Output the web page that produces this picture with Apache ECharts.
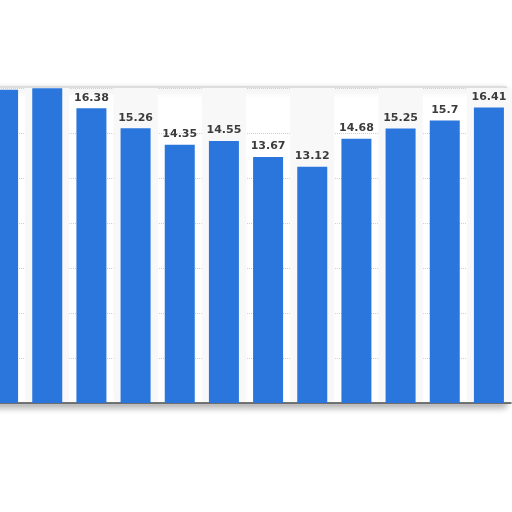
<!DOCTYPE html>
<html lang="en">
<head>
    <meta charset="UTF-8">
    <title>bars</title>
    <script src="https://cdn.jsdelivr.net/npm/echarts@6/dist/echarts.min.js"></script>
    <style>
        html, body { margin: 0; padding: 0; background: #fff; overflow: hidden; }
        /* the first bar is cut off by the left edge, so the chart starts a bit off-screen */
        #chart { position: absolute; left: -19px; top: 0; width: 531px; height: 512px; }
    </style>
</head>
<body>
    <div id="chart"></div>
    <script>
        // categories are cut off in the picture, so only placeholders
        var categories = ['c1', 'c2', 'c3', 'c4', 'c5', 'c6', 'c7', 'c8', 'c9', 'c10', 'c11', 'c12'];
        var values = [17.4, 17.49, 16.38, 15.26, 14.35, 14.55, 13.67, 13.12, 14.68, 15.25, 15.7, 16.41];
        var hiddenLabels = [0, 1]; // their labels lie outside the torn piece

        var barData = values.map(function (v, i) {
            var item = { value: v };
            if (hiddenLabels.indexOf(i) > -1) item.label = { show: false };
            return item;
        });

        var chart = echarts.init(document.getElementById('chart'));
        chart.setOption({
            animation: false,
            grid: { left: 0, right: 1, top: 88, bottom: 109 },
            graphic: [
                {
                    type: 'rect',
                    z: -10,
                    shape: { x: 0, y: 87, width: 525, height: 317 },
                    style: {
                        fill: '#fff',
                        stroke: '#c8c8c8',
                        lineWidth: 1,
                        shadowColor: 'rgba(0,0,0,0.35)',
                        shadowBlur: 7,
                        shadowOffsetY: 3
                    }
                }
            ],
            xAxis: {
                type: 'category',
                data: categories,
                axisLabel: { show: false },
                axisTick: { show: false },
                axisLine: { lineStyle: { color: '#4a4a4a', width: 1.5 } },
                splitArea: { show: true, areaStyle: { color: ['rgba(0,0,0,0)', '#f8f8f8'] } }
            },
            yAxis: {
                type: 'value',
                min: 0,
                max: 17.5,
                interval: 2.5,
                axisLabel: { show: false },
                axisLine: { show: false },
                axisTick: { show: false },
                splitLine: { lineStyle: { color: '#cfcfcf', type: 'dotted' } }
            },
            series: [
                {
                    type: 'bar',
                    data: barData,
                    barWidth: 30,
                    clip: true,
                    itemStyle: { color: '#2a76dc' },
                    label: {
                        show: true,
                        position: 'top',
                        distance: 5,
                        color: '#3c3c3c',
                        fontSize: 11,
                        fontWeight: 'bold',
                        fontFamily: 'DejaVu Sans'
                    }
                }
            ]
        });
    </script>
</body>
</html>
